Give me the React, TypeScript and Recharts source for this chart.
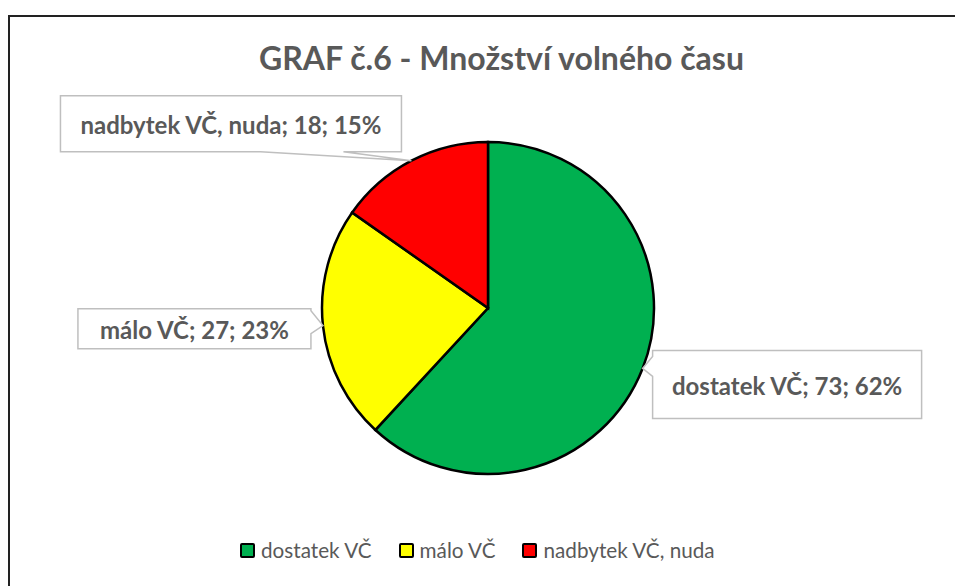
import { PieChart, Pie, Cell, Legend } from "recharts";

const categories = ["dostatek VČ", "málo VČ", "nadbytek VČ, nuda"];
const counts = [73, 27, 18];
const colors = ["#00B050", "#FFFF00", "#FF0000"];

const data = categories.map((name, i) => ({ name, value: counts[i], fill: colors[i] }));

const W = 955;
const H = 586;
const CW = 935;
const TEXT = "#595959";
const FONT = "Lato, 'Open Sans', sans-serif";
const RAD = Math.PI / 180;

// callout boxes, placed relative to where the pointer meets the slice
const boxes = [
  { dx: 10, dy: -18, w: 269, h: 68, side: "left", b1: 6, b2: 26 },
  { dx: -245, dy: -17, w: 233, h: 40, side: "right", b1: 2, b2: 25 },
  { dx: -351, dy: -65, w: 341, h: 56, side: "bottom", b1: 200, b2: 283 },
];

const CalloutLabel = (props: any) => {
  const { cx, cy, midAngle, outerRadius, index, value, percent } = props;
  const tx = cx + outerRadius * Math.cos(-midAngle * RAD);
  const ty = cy + outerRadius * Math.sin(-midAngle * RAD);
  const b = boxes[index];
  const x0 = tx + b.dx;
  const y0 = ty + b.dy;
  const x1 = x0 + b.w;
  const y1 = y0 + b.h;
  let d = "";
  if (b.side === "left") {
    d = `M${x0},${y0} H${x1} V${y1} H${x0} V${y0 + b.b2} L${tx},${ty} L${x0},${y0 + b.b1} Z`;
  } else if (b.side === "right") {
    d = `M${x0},${y0} H${x1} V${y0 + b.b1} L${tx},${ty} L${x1},${y0 + b.b2} V${y1} H${x0} Z`;
  } else {
    d = `M${x0},${y0} H${x1} V${y1} H${x0 + b.b2} L${tx},${ty} L${x0 + b.b1},${y1} H${x0} Z`;
  }
  return (
    <g>
      <path d={d} fill="#fff" stroke="#BFBFBF" strokeWidth={1.5} />
      <text
        x={(x0 + x1) / 2}
        y={(y0 + y1) / 2 + 1}
        textAnchor="middle"
        dominantBaseline="central"
        fontFamily={FONT}
        fontWeight={700}
        fontSize={24}
        fill={TEXT}
      >
        {`${categories[index]}; ${value}; ${Math.round(percent * 100)}%`}
      </text>
    </g>
  );
};

const renderLegend = (props: any) => {
  const { payload = [] } = props;
  return (
    <div style={{ display: "flex", justifyContent: "flex-start", gap: 27, fontFamily: FONT, fontSize: 20.7, color: TEXT, paddingLeft: 240 }}>
      {payload.map((entry: any) => {
        const i = categories.indexOf(entry.value);
        return (
          <div key={entry.value} style={{ display: "flex", alignItems: "center", gap: 6 }}>
            <span
              style={{
                width: 11,
                height: 11,
                background: colors[i],
                border: "2px solid #000",
                borderRadius: 2,
                display: "inline-block",
              }}
            />
            <span>{entry.value}</span>
          </div>
        );
      })}
    </div>
  );
};

export default function App() {
  return (
    <div style={{ position: "fixed", left: 0, top: 0, width: W, height: H, overflow: "hidden", background: "#fff" }}>
      <div
        style={{
          position: "absolute",
          left: 8,
          top: 15,
          width: W + 40,
          height: H + 40,
          borderTop: "2px solid #222",
          borderLeft: "2px solid #222",
        }}
      />
      <div
        style={{
          position: "absolute",
          top: 38,
          left: 48,
          width: W - 48,
          textAlign: "center",
          fontFamily: FONT,
          fontWeight: 700,
          fontSize: 32,
          color: TEXT,
        }}
      >
        GRAF č.6 - Množství volného času
      </div>
      <PieChart
        width={CW}
        height={H}
        margin={{ top: 0, right: 0, bottom: 0, left: 0 }}
        accessibilityLayer={false}
        style={{ position: "absolute", left: 0, top: 0, outline: "none" }}
      >
        <Pie
          data={data}
          dataKey="value"
          nameKey="name"
          cx={488}
          cy={308}
          outerRadius={166}
          startAngle={90}
          endAngle={-270}
          stroke="#000"
          strokeWidth={2.5}
          label={CalloutLabel}
          labelLine={false}
          isAnimationActive={false}
        >
          {data.map((d, i) => (
            <Cell key={d.name} fill={colors[i]} />
          ))}
        </Pie>
        <Legend
          content={renderLegend}
          wrapperStyle={{ position: "absolute", left: 0, top: 538, width: CW }}
        />
      </PieChart>
    </div>
  );
}
